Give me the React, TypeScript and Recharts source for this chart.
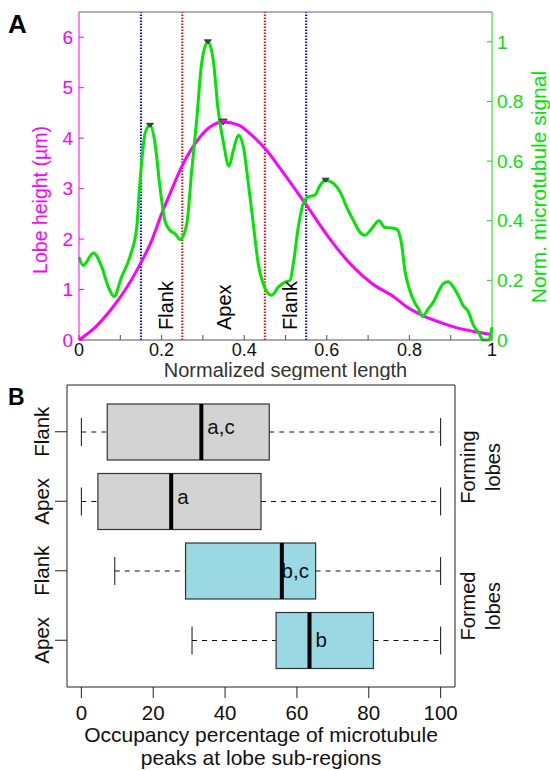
import React from 'react';
import {
  ComposedChart,
  Line,
  Bar,
  XAxis,
  YAxis,
  ReferenceLine,
  ReferenceDot,
} from 'recharts';

// ---- panel A: lobe profile + microtubule signal
const lobeX = [0, 0.039, 0.079, 0.111, 0.144, 0.176, 0.2, 0.224, 0.245, 0.281, 0.317, 0.349, 0.386, 0.418, 0.454, 0.487, 0.511, 0.551, 0.604, 0.66, 0.709, 0.765, 0.793, 0.831, 0.874, 0.915, 0.955, 1.0];
const lobeHeight = [0, 0.25, 0.62, 0.98, 1.44, 1.97, 2.5, 2.97, 3.37, 3.89, 4.22, 4.32, 4.26, 4.06, 3.76, 3.4, 3.13, 2.67, 2.04, 1.48, 1.12, 0.84, 0.66, 0.49, 0.35, 0.24, 0.17, 0.11];

const signalX = [0, 0.01, 0.035, 0.055, 0.071, 0.085, 0.103, 0.123, 0.14, 0.145, 0.152, 0.16, 0.172, 0.184, 0.196, 0.208, 0.22, 0.232, 0.245, 0.261, 0.273, 0.285, 0.297, 0.312, 0.325, 0.337, 0.35, 0.363, 0.374, 0.386, 0.398, 0.41, 0.422, 0.434, 0.446, 0.466, 0.483, 0.499, 0.511, 0.519, 0.531, 0.543, 0.555, 0.571, 0.584, 0.597, 0.616, 0.632, 0.648, 0.664, 0.68, 0.692, 0.709, 0.726, 0.741, 0.757, 0.769, 0.781, 0.789, 0.801, 0.814, 0.822, 0.831, 0.846, 0.858, 0.87, 0.882, 0.894, 0.906, 0.918, 0.93, 0.943, 0.955, 0.967, 0.979, 0.991, 1.0];
const signal = [0.278, 0.25, 0.292, 0.245, 0.178, 0.146, 0.211, 0.278, 0.379, 0.48, 0.6, 0.693, 0.72, 0.66, 0.514, 0.4, 0.368, 0.357, 0.337, 0.39, 0.57, 0.738, 0.928, 1.0, 0.94, 0.77, 0.66, 0.583, 0.637, 0.687, 0.648, 0.525, 0.39, 0.256, 0.189, 0.15, 0.178, 0.194, 0.2, 0.256, 0.379, 0.458, 0.48, 0.486, 0.519, 0.536, 0.525, 0.497, 0.446, 0.402, 0.362, 0.351, 0.374, 0.4, 0.377, 0.376, 0.372, 0.323, 0.234, 0.166, 0.122, 0.105, 0.079, 0.105, 0.127, 0.161, 0.189, 0.195, 0.178, 0.15, 0.116, 0.094, 0.049, 0.026, 0, 0, 0.043];

const signalPeakX = [0.172, 0.312, 0.597];
const signalPeakY = [0.72, 1.0, 0.536];

const flankLines = [0.15, 0.55];
const apexLines = [0.25, 0.45];
const regionNames = ['Flank', 'Apex', 'Flank'];
const regionX = [0.21, 0.35, 0.51];

const xTicksA = [0, 0.1, 0.2, 0.3, 0.4, 0.5, 0.6, 0.7, 0.8, 0.9, 1];
const xLabelsA = [0, 0.2, 0.4, 0.6, 0.8, 1];
const leftTicks = [0, 1, 2, 3, 4, 5, 6];
const rightTicks = [0, 0.2, 0.4, 0.6, 0.8, 1];

// ---- panel B: occupancy boxplots
const boxKeys = ['formingFlank', 'formingApex', 'formedFlank', 'formedApex'];
const boxNames = ['Flank', 'Apex', 'Flank', 'Apex'];
const boxGroup = ['forming', 'forming', 'formed', 'formed'];
const whiskerLow = [0, 0, 9.3, 30.8];
const quart1 = [7.2, 4.6, 29, 54.2];
const medians = [33.4, 25, 55.8, 63.5];
const quart3 = [52.3, 50, 65.2, 81.3];
const whiskerHigh = [100, 100, 100, 100];
const letters = ['a,c', 'a', 'b,c', 'b'];
const xTicksB = [0, 20, 40, 60, 80, 100];

const MAGENTA = '#ff00ff';
const GREEN = '#00e600';
const FONT = "'Liberation Sans', Arial, Helvetica, sans-serif";

const lobeData = lobeX.map((x, i) => ({ x, h: lobeHeight[i] }));
const signalData = signalX.map((x, i) => ({ x, s: signal[i] }));
const lobeMax = lobeHeight.indexOf(Math.max(...lobeHeight));

const boxData = boxKeys.map((key, i) => ({
  key,
  name: boxNames[i],
  group: boxGroup[i],
  range: [whiskerLow[i], whiskerHigh[i]],
  lo: whiskerLow[i],
  q1: quart1[i],
  med: medians[i],
  q3: quart3[i],
  hi: whiskerHigh[i],
  letter: letters[i],
}));

const downTriangle = (fill: string, w: number, h: number) => (p: any) => (
  <polygon
    points={`${p.cx - w / 2},${p.cy - h / 2} ${p.cx + w / 2},${p.cy - h / 2} ${p.cx},${p.cy + h / 2}`}
    fill={fill}
    stroke="#222"
    strokeWidth={0.8}
  />
);

const RegionLabel = (text: string) => (p: any) => {
  const x = p.cx;
  const y = p.cy - 10;
  return (
    <text x={x} y={y} dy="0.36em" transform={`rotate(-90 ${x} ${y})`} fontSize={20} fill="#000">
      {text}
    </text>
  );
};

const PanelA = () => (
  <ComposedChart width={550} height={380} margin={{ top: 0, right: 0, bottom: 0, left: 0 }}>
    <XAxis
      xAxisId="top"
      orientation="top"
      type="number"
      dataKey="x"
      domain={[0, 1]}
      ticks={xTicksA}
      tick={false}
      tickSize={-5}
      height={12}
      stroke="#666"
    />
    <XAxis
      type="number"
      dataKey="x"
      domain={[0, 1]}
      ticks={xTicksA}
      interval={0}
      tickFormatter={(v: number) => (xLabelsA.includes(v) ? String(v) : '')}
      tickSize={-5}
      tickMargin={8.5}
      height={40}
      stroke="#555"
      tick={{ fill: '#111', fontSize: 18 }}
      label={{
        content: (p: any) => (
          <text
            x={p.viewBox.x + p.viewBox.width / 2}
            y={p.viewBox.y + 36.5}
            textAnchor="middle"
            fontSize={20}
            fill="#333"
          >
            Normalized segment length
          </text>
        ),
      }}
    />
    <YAxis
      yAxisId="left"
      type="number"
      domain={[0, 6.5]}
      ticks={leftTicks}
      interval={0}
      width={79}
      stroke={MAGENTA}
      tickSize={-5}
      tickMargin={11}
      tick={{ fill: MAGENTA, fontSize: 19 }}
    />
    <YAxis
      yAxisId="right"
      orientation="right"
      type="number"
      domain={[0, 1.1]}
      ticks={rightTicks}
      interval={0}
      width={58}
      stroke={GREEN}
      tickSize={-5}
      tickMargin={10}
      tick={{ fill: GREEN, fontSize: 19 }}
    />
    {flankLines.map((x) => (
      <ReferenceLine key={`b${x}`} x={x} yAxisId="left" stroke="#0000ff" strokeWidth={2} strokeDasharray="1.5 1.5" />
    ))}
    {apexLines.map((x) => (
      <ReferenceLine key={`r${x}`} x={x} yAxisId="left" stroke="#ff0000" strokeWidth={2} strokeDasharray="1.5 1.5" />
    ))}
    <Line
      yAxisId="left"
      data={lobeData}
      dataKey="h"
      type="monotone"
      stroke={MAGENTA}
      strokeWidth={3}
      dot={false}
      isAnimationActive={false}
    />
    <Line
      yAxisId="right"
      data={signalData}
      dataKey="s"
      type="monotone"
      stroke={GREEN}
      strokeWidth={3}
      dot={false}
      isAnimationActive={false}
    />
    {signalPeakX.map((x, i) => (
      <ReferenceDot key={`p${i}`} x={x} y={signalPeakY[i]} yAxisId="right" shape={downTriangle('#444', 7, 4)} />
    ))}
    <ReferenceDot
      x={lobeX[lobeMax]}
      y={lobeHeight[lobeMax]}
      yAxisId="left"
      shape={downTriangle(MAGENTA, 8, 6)}
    />
    {regionNames.map((name, i) => (
      <ReferenceDot key={`t${i}`} x={regionX[i]} y={0} yAxisId="left" shape={RegionLabel(name)} />
    ))}
  </ComposedChart>
);

const BoxShape = (p: any) => {
  const { x, y, width, height, payload } = p;
  const d = payload;
  const ppu = width / (d.hi - d.lo);
  const px = (v: number) => x + (v - d.lo) * ppu;
  const cy = y + height / 2;
  const fill = d.group === 'forming' ? '#d3d3d3' : '#9ad8e3';
  const medX = px(d.med);
  const q3X = px(d.q3);
  const estW = d.letter.length * 10;
  const tx = Math.min(medX + 6, q3X - estW - 4);
  const dy = /[bdfhklt]/.test(d.letter) ? '0.34em' : '0.12em';
  return (
    <g>
      <line x1={px(d.lo)} x2={px(d.q1)} y1={cy} y2={cy} stroke="#111" strokeDasharray="5 5" />
      <line x1={q3X} x2={px(d.hi)} y1={cy} y2={cy} stroke="#111" strokeDasharray="5 5" />
      <line x1={px(d.lo)} x2={px(d.lo)} y1={cy - height / 4} y2={cy + height / 4} stroke="#111" />
      <line x1={px(d.hi)} x2={px(d.hi)} y1={cy - height / 4} y2={cy + height / 4} stroke="#111" />
      <rect x={px(d.q1)} y={y} width={q3X - px(d.q1)} height={height} fill={fill} stroke="#333" strokeWidth={1.2} />
      <line x1={medX} x2={medX} y1={y} y2={y + height} stroke="#000" strokeWidth={4} />
      <text x={tx} y={cy} dy={dy} fontSize={20.5} fill="#111">
        {d.letter}
      </text>
    </g>
  );
};

const CatTick = (p: any) => {
  const i = boxKeys.indexOf(p.payload.value);
  const x = p.x - 4;
  const y = p.y;
  return (
    <text x={x} y={y} transform={`rotate(-90 ${x} ${y})`} textAnchor="middle" fontSize={20.5} fill="#111">
      {boxNames[i]}
    </text>
  );
};

const PanelB = () => (
  <ComposedChart
    layout="vertical"
    width={550}
    height={395}
    data={boxData}
    margin={{ top: 0, right: 0, bottom: 0, left: 0 }}
  >
    <XAxis
      xAxisId="top"
      orientation="top"
      type="number"
      domain={[-4, 104]}
      height={10}
      tick={false}
      tickLine={false}
      stroke="#222"
    />
    <XAxis
      type="number"
      domain={[-4, 104]}
      ticks={xTicksB}
      interval={0}
      height={83}
      tickSize={11}
      tickMargin={7}
      stroke="#222"
      tick={{ fill: '#111', fontSize: 20.5 }}
      label={{
        content: (p: any) => {
          const cx = p.viewBox.x + p.viewBox.width / 2;
          return (
            <text textAnchor="middle" fontSize={21} fill="#111">
              <tspan x={cx} y={p.viewBox.y + 55}>Occupancy percentage of microtubule</tspan>
              <tspan x={cx} y={p.viewBox.y + 78}>peaks at lobe sub-regions</tspan>
            </text>
          );
        },
      }}
    />
    <YAxis
      type="category"
      dataKey="key"
      width={67}
      tickSize={12}
      padding={{ top: 12, bottom: 12 }}
      stroke="#222"
      tick={CatTick}
    />
    <YAxis
      yAxisId="r"
      orientation="right"
      type="category"
      dataKey="key"
      width={95}
      padding={{ top: 12, bottom: 12 }}
      tick={false}
      tickLine={false}
      stroke="#222"
    />
    <Bar dataKey="range" barSize={56} shape={BoxShape} isAnimationActive={false} />
  </ComposedChart>
);

const VText = ({ x, y, size, color, children }: any) => (
  <text x={x} y={y} transform={`rotate(-90 ${x} ${y})`} textAnchor="middle" fontSize={size} fill={color}>
    {children}
  </text>
);

export default function App() {
  return (
    <div
      style={{
        position: 'absolute',
        left: 0,
        top: 0,
        width: 550,
        height: 770,
        background: '#fff',
        fontFamily: FONT,
      }}
    >
      <div style={{ position: 'absolute', left: 0, top: 0 }}>
        <PanelA />
      </div>
      <div style={{ position: 'absolute', left: 0, top: 375 }}>
        <PanelB />
      </div>
      <svg width={550} height={770} style={{ position: 'absolute', left: 0, top: 0, pointerEvents: 'none' }}>
        <text x={8} y={33} fontSize={26} fontWeight="bold" fill="#000">A</text>
        <text x={8} y={405} fontSize={23} fontWeight="bold" fill="#000">B</text>
        <VText x={47} y={200} size={19.5} color={MAGENTA}>Lobe height (µm)</VText>
        <VText x={546} y={187} size={21} color={GREEN}>Norm. microtubule signal</VText>
        <VText x={475} y={467} size={20} color="#111">Forming</VText>
        <VText x={500} y={467} size={20} color="#111">lobes</VText>
        <VText x={475} y={606} size={20} color="#111">Formed</VText>
        <VText x={500} y={606} size={20} color="#111">lobes</VText>
      </svg>
    </div>
  );
}
